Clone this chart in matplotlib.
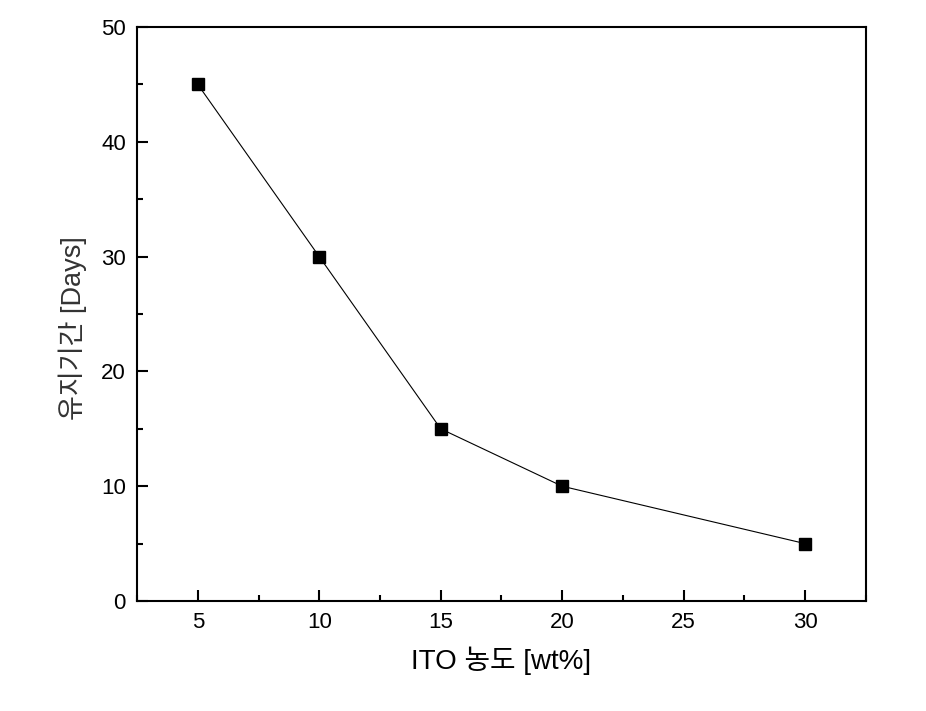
import matplotlib
matplotlib.use("Agg")
import matplotlib.pyplot as plt
from matplotlib.ticker import MultipleLocator

plt.rcParams['font.family'] = ['Liberation Sans', 'Noto Sans CJK KR', 'DejaVu Sans']

concentration = [5, 10, 15, 20, 30]
days = [45, 30, 15, 10, 5]
x_label = "ITO 농도 [wt%]"
y_label = "유지기간 [Days]"

fig = plt.figure(figsize=(9.26, 7.11), dpi=100)
ax = fig.add_axes([0.148, 0.1547, 0.787, 0.8073])
ax.plot(concentration, days, color='black', linewidth=0.8, marker='s',
        markersize=8.5, markerfacecolor='black', markeredgecolor='black')
ax.set_xlim(2.5, 32.5)
ax.set_ylim(0, 50)
ax.xaxis.set_major_locator(MultipleLocator(5))
ax.xaxis.set_minor_locator(MultipleLocator(2.5))
ax.yaxis.set_major_locator(MultipleLocator(10))
ax.yaxis.set_minor_locator(MultipleLocator(5))
ax.tick_params(which='both', direction='in', top=False, right=False, width=1.5, labelsize=16, pad=8)
ax.tick_params(which='major', length=8)
ax.tick_params(which='minor', length=4.5)
for s in ax.spines.values():
    s.set_linewidth(1.5)
ax.set_xlabel(x_label, fontsize=20, labelpad=10)
ax.set_ylabel(y_label, fontsize=19.5, color='#333333')
ax.yaxis.set_label_coords(-0.068, 0.476)
fig.savefig("out.png", dpi=100)
